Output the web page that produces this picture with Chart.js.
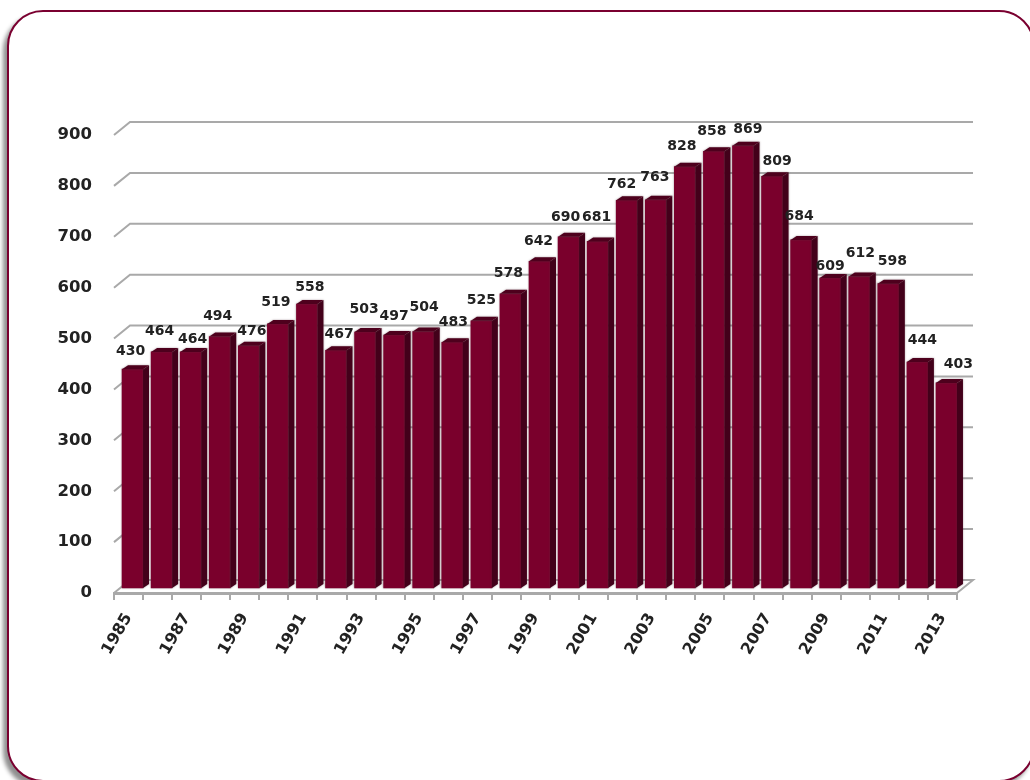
<!DOCTYPE html>
<html>
<head>
<meta charset="utf-8">
<script src="https://cdn.jsdelivr.net/npm/chart.js@4"></script>
<style>
    html, body { margin: 0; padding: 0; width: 1030px; height: 780px; overflow: hidden; background: #fff; }
    #frame {
        position: absolute; left: 7px; top: 10px; width: 1028px; height: 772px;
        box-sizing: border-box; border: 2px solid #7a0030; border-radius: 36px;
        background: #fff; box-shadow: -4px 5px 4px #8f8f8f;
    }
    #chart { position: absolute; left: 0; top: 0; }
</style>
</head>
<body>
<div id="frame"></div>
<canvas id="chart" width="1030" height="780"></canvas>
<script>
// ---------------------------
// Data
// ---------------------------
const years = ["1985","1986","1987","1988","1989","1990","1991","1992","1993","1994",
    "1995","1996","1997","1998","1999","2000","2001","2002","2003","2004",
    "2005","2006","2007","2008","2009","2010","2011","2012","2013"];
const values = [430,464,464,494,476,519,558,467,503,497,
    504,483,525,578,642,690,681,762,763,828,
    858,869,809,684,609,612,598,444,403];
const yTicks = [0,100,200,300,400,500,600,700,800,900];

// label nudges, the original labels were moved around by hand
const labelDx = [-2,-2,2,-2,3,-2,3,3,-1,0,1,1,0,-2,-1,-3,-1,-5,-1,-3,-2,5,5,-2,0,1,4,5,12];
const labelDy = [-14,-17,-9,-16,-10,-18,-13,-12,-19,-15,-20,-16,-16,-17,-16,-16,-20,-12,-18,-16,-16,-12,-11,-20,-8,-19,-18,-18,-15];

// ---------------------------
// Fake 3D look
// ---------------------------
const FRONT = "#7a002c", SIDE = "#43001a", TOP = "#4e001d", GRID = "#a9a9a9";
const WALL_X = 16, WALL_Y = 13;   // floor depth
const BAR_X = 4, BAR_Y = 5;       // bars sit a bit behind the front edge
const DEPTH_X = 6, DEPTH_Y = 4;   // bar depth

const wallPlugin = {
    id: "wall",
    beforeDatasetsDraw(chart) {
        const { ctx, scales: { x, y } } = chart;
        ctx.save();
        ctx.strokeStyle = GRID;
        ctx.lineWidth = 2;
        yTicks.forEach(v => {
            const py = y.getPixelForValue(v);
            ctx.beginPath();
            ctx.moveTo(x.left, py);
            ctx.lineTo(x.left + WALL_X, py - WALL_Y);
            ctx.lineTo(x.right + WALL_X, py - WALL_Y);
            if (v === 0) ctx.lineTo(x.right, py);
            ctx.stroke();
        });
        ctx.restore();

        // bars are drawn by Chart.js in the shifted plane
        ctx.save();
        ctx.translate(BAR_X, -BAR_Y);
        ctx.shadowColor = "rgba(90,60,70,0.55)";
        ctx.shadowBlur = 2;
    },
    afterDatasetsDraw(chart) {
        const { ctx } = chart;
        const bars = chart.getDatasetMeta(0).data;
        bars.forEach(b => {
            const r = b.x + b.width / 2, l = b.x - b.width / 2;
            ctx.fillStyle = SIDE;
            ctx.beginPath();
            ctx.moveTo(r, b.y);
            ctx.lineTo(r + DEPTH_X, b.y - DEPTH_Y);
            ctx.lineTo(r + DEPTH_X, b.base - DEPTH_Y);
            ctx.lineTo(r, b.base);
            ctx.closePath();
            ctx.fill();
            ctx.fillStyle = TOP;
            ctx.beginPath();
            ctx.moveTo(l, b.y);
            ctx.lineTo(l + DEPTH_X, b.y - DEPTH_Y);
            ctx.lineTo(r + DEPTH_X, b.y - DEPTH_Y);
            ctx.lineTo(r, b.y);
            ctx.closePath();
            ctx.fill();
        });
        ctx.restore();

        // data labels
        ctx.save();
        ctx.font = "bold 14px 'DejaVu Sans'";
        ctx.fillStyle = "#222";
        ctx.textAlign = "center";
        ctx.textBaseline = "middle";
        bars.forEach((b, i) => {
            ctx.fillText(values[i], b.x + BAR_X + labelDx[i], b.y - BAR_Y - DEPTH_Y + labelDy[i]);
        });
        ctx.restore();
    }
};

// ---------------------------
// Chart
// ---------------------------
new Chart(document.getElementById("chart").getContext("2d"), {
    type: "bar",
    data: {
        labels: years,
        datasets: [{
            data: values,
            backgroundColor: FRONT,
            barThickness: 21,
            clip: false
        }]
    },
    options: {
        responsive: false,
        animation: false,
        layout: { padding: { left: 0, right: 73, top: 135, bottom: 0 } },
        plugins: { legend: { display: false }, tooltip: { enabled: false } },
        scales: {
            x: {
                offset: true,
                afterFit: s => { s.height = 187; },
                grid: { drawOnChartArea: false, color: GRID, lineWidth: 2, tickLength: 7, offset: true },
                border: { color: GRID, width: 3 },
                ticks: {
                    autoSkip: false,
                    minRotation: 60,
                    maxRotation: 60,
                    padding: 10,
                    color: "#222",
                    font: { family: "'DejaVu Sans'", weight: "bold", size: 16 },
                    callback: (v, i) => (i % 2 ? "" : years[i])
                }
            },
            y: {
                min: 0,
                max: 900,
                afterFit: s => { s.width = 114; },
                afterBuildTicks: s => { s.ticks = yTicks.map(v => ({ value: v })); },
                grid: { display: false, drawTicks: false },
                border: { display: false },
                ticks: {
                    padding: 22,
                    color: "#222",
                    font: { family: "'DejaVu Sans'", weight: "bold", size: 16.5 }
                }
            }
        }
    },
    plugins: [wallPlugin]
});
</script>
</body>
</html>
